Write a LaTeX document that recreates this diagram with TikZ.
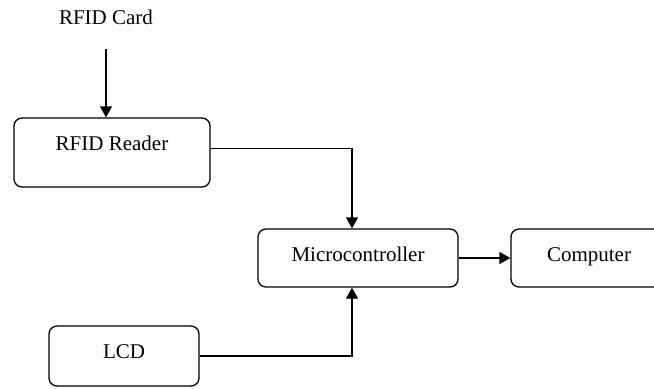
\documentclass[tikz,border=0pt]{standalone}
\usepackage{fontspec}
\setmainfont{Liberation Serif}
\usetikzlibrary{arrows.meta}
\begin{document}
\begin{tikzpicture}[x=0.5pt,y=-0.5pt,
  font=\fontsize{10.5}{12}\selectfont,
  box/.style={draw,rounded corners=4pt,line width=0.65pt,inner ysep=0pt},
  arr/.style={-{Triangle[length=5.5pt,width=6pt]},line width=0.65pt}]
\clip (0,0) rectangle (654,388);

\node (card) at (106,17) {RFID Card};
\node[box,minimum width=98pt,text height=16pt,text depth=18.5pt] (reader) at (112,152.5) {RFID Reader};
\node[box,minimum width=100pt,text height=16.25pt,text depth=12.75pt] (micro) at (358,258) {Microcontroller};
\node[box,minimum width=78pt,text height=16.25pt,text depth=12.75pt] (comp) at (589,258) {Computer};
\node[box,minimum width=75pt,text height=16pt,text depth=14pt] (lcd) at (124,356) {LCD};

\draw[arr,shorten <=9pt] (card.south) -- (card.south |- reader.north);
\draw[arr] ([yshift=2pt]reader.east) -| ([xshift=-3pt]micro.north);
\draw[arr] (micro.east) -- (comp.west);
\draw[arr] (lcd.east) -| ([xshift=-3pt]micro.south);
\end{tikzpicture}
\end{document}
